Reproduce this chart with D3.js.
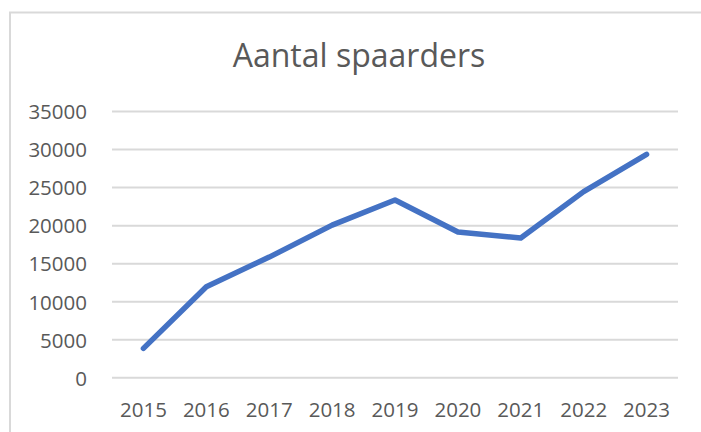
<!DOCTYPE html>
<html>
<head>
<meta charset="utf-8">
<script src="https://cdn.jsdelivr.net/npm/d3@7"></script>
<style>
  html, body { margin: 0; padding: 0; background: #fff; }
  svg { display: block; }
</style>
</head>
<body>
<svg id="chart" width="701" height="432"></svg>
<script>
const title = "Aantal spaarders";
const years = ["2015", "2016", "2017", "2018", "2019", "2020", "2021", "2022", "2023"];
const spaarders = [3800, 11900, 15800, 20000, 23300, 19100, 18300, 24400, 29300];
const yTicks = [0, 5000, 10000, 15000, 20000, 25000, 30000, 35000];

const W = 701, H = 432;
const plot = { left: 112, right: 678, top: 111, bottom: 377.3 };
const textColor = "#595959";
const gridColor = "#d9d9d9";
const lineColor = "#4472C4";
const font = "'Open Sans', 'Noto Sans', sans-serif";

const svg = d3.select("#chart");

// chart area border (left + top visible)
svg.append("rect")
  .attr("x", 10).attr("y", 12.5)
  .attr("width", W + 20).attr("height", H + 20)
  .attr("fill", "#fff")
  .attr("stroke", gridColor)
  .attr("stroke-width", 2);

// title
svg.append("text")
  .attr("x", 359).attr("y", 67)
  .attr("text-anchor", "middle")
  .attr("font-family", font)
  .attr("font-size", 32)
  .attr("fill", textColor)
  .text(title);

const x = d3.scaleBand().domain(years).range([plot.left, plot.right]);
const y = d3.scaleLinear().domain([0, 35000]).range([plot.bottom, plot.top]);

// y axis (gridlines + labels)
const yAxis = d3.axisLeft(y)
  .tickValues(yTicks)
  .tickSize(-(plot.right - plot.left))
  .tickPadding(25)
  .tickFormat(d3.format("d"));

const gy = svg.append("g")
  .attr("transform", `translate(${plot.left},0)`)
  .call(yAxis);
gy.select(".domain").remove();
gy.selectAll(".tick line").attr("stroke", gridColor).attr("stroke-width", 2);
gy.selectAll(".tick text")
  .attr("font-family", font)
  .attr("font-size", 20.5)
  .attr("fill", textColor)
  .attr("dy", "0.38em");

// x axis labels
const xAxis = d3.axisBottom(x).tickSize(0).tickPadding(25);
const gx = svg.append("g")
  .attr("transform", `translate(0,${plot.bottom})`)
  .call(xAxis);
gx.select(".domain").remove();
gx.selectAll(".tick text")
  .attr("font-family", font)
  .attr("font-size", 20.5)
  .attr("fill", textColor);

// line
const line = d3.line()
  .x((d, i) => x(years[i]) + x.bandwidth() / 2)
  .y(d => y(d));

svg.append("path")
  .datum(spaarders)
  .attr("d", line)
  .attr("fill", "none")
  .attr("stroke", lineColor)
  .attr("stroke-width", 5.5)
  .attr("stroke-linecap", "round")
  .attr("stroke-linejoin", "round");
</script>
</body>
</html>
